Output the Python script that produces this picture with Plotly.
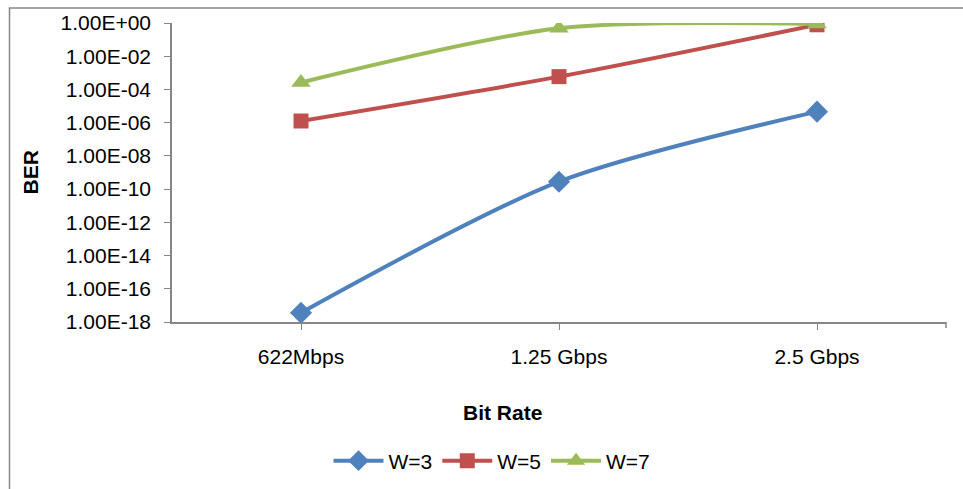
import plotly.graph_objects as go

categories = ["622Mbps", "1.25 Gbps", "2.5 Gbps"]
w3 = [3.6e-18, 2.8e-10, 4.6e-6]
w5 = [1.26e-6, 5.9e-4, 0.78]
w7 = [2.6e-4, 0.48, 0.87]
tick_vals = [1e0, 1e-2, 1e-4, 1e-6, 1e-8, 1e-10, 1e-12, 1e-14, 1e-16, 1e-18]
tick_text = ["1.00E+00", "1.00E-02", "1.00E-04", "1.00E-06", "1.00E-08",
             "1.00E-10", "1.00E-12", "1.00E-14", "1.00E-16", "1.00E-18"]

FONT = "Liberation Sans, Arial, sans-serif"
W, H = 963, 489
L, R, T, B = 172, 17, 23, 167
pw, ph = W - L - R, H - T - B

def px_x(x):
    return (x - L) / pw

def px_y(y):
    return (H - B - y) / ph

series = [
    ("W=3", w3, "#4F81BD", "diamond", 17),
    ("W=5", w5, "#C0504D", "square", 15),
    ("W=7", w7, "#9BBB59", "triangle-up", 17),
]

fig = go.Figure()
for name, vals, col, sym, sz in series:
    fig.add_trace(go.Scatter(
        x=categories, y=vals, name=name, mode="lines+markers",
        line=dict(color=col, width=4, shape="spline", smoothing=0.8),
        marker=dict(symbol=sym, size=sz, color=col),
    ))

fig.update_layout(
    width=W, height=H,
    margin=dict(l=L, r=R, t=T, b=B, autoexpand=False),
    paper_bgcolor="white", plot_bgcolor="white",
    font=dict(family=FONT, size=21, color="black"),
    showlegend=True,
    legend=dict(orientation="h", x=px_x(492), y=px_y(461), xanchor="center", yanchor="middle",
                font=dict(size=21), itemwidth=50, tracegroupgap=0, bgcolor="rgba(0,0,0,0)"),
    xaxis=dict(type="category", range=[-0.5, 2.5], showline=True, linecolor="#868686", linewidth=1.5,
               ticks="outside", ticklen=6, tickcolor="#868686", showgrid=False, zeroline=False,
               automargin=False, ticklabelstandoff=9, tickfont=dict(size=21)),
    yaxis=dict(type="log", range=[-18, 0], showline=True, linecolor="#868686", linewidth=1.5,
               ticks="outside", ticklen=6, tickcolor="#868686", showgrid=False, zeroline=False,
               automargin=False, tickvals=tick_vals, ticktext=tick_text, ticklabelstandoff=9,
               tickfont=dict(size=21)),
    shapes=[
        dict(type="rect", xref="paper", yref="paper", x0=px_x(9.5), x1=px_x(975), y0=px_y(500), y1=px_y(8),
             line=dict(color="#868686", width=1.5), fillcolor="rgba(0,0,0,0)", layer="below"),
        dict(type="line", xref="paper", yref="paper", x0=1, x1=1, y0=0, y1=px_y(328),
             line=dict(color="#868686", width=1.5)),
    ],
    annotations=[
        dict(text="<b>Bit Rate</b>", xref="paper", yref="paper", x=px_x(502), y=px_y(412),
             showarrow=False, font=dict(size=21), xanchor="center", yanchor="middle"),
        dict(text="<b>BER</b>", xref="paper", yref="paper", x=px_x(30), y=0.5, textangle=-90,
             showarrow=False, font=dict(size=21), xanchor="center", yanchor="middle"),
    ],
)

fig.write_html("out.html", config={"displayModeBar": False},
               post_script="document.body.style.margin='0';document.body.style.overflow='hidden';")
